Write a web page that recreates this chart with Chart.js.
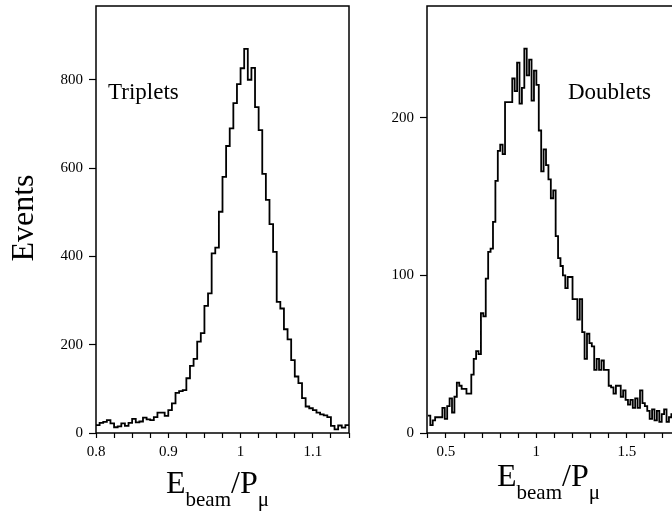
<!DOCTYPE html>
<html>
<head>
<meta charset="utf-8">
<script src="https://cdn.jsdelivr.net/npm/chart.js@4.4.1/dist/chart.umd.min.js"></script>
<style>
  html, body { margin: 0; padding: 0; background: #fff; overflow: hidden; }
  #page { position: relative; width: 672px; height: 522px; overflow: hidden; background: #fff; }
  canvas { position: absolute; top: 0; }
  .txt { position: absolute; font-family: 'Liberation Serif', 'Times New Roman', serif; color: #000; white-space: nowrap; line-height: 1; }
  .sub { font-size: 21px; position: relative; top: 13px; }
</style>
</head>
<body>
<div id="page">
  <canvas id="tripletChart" width="360" height="522" style="left:0px"></canvas>
  <canvas id="doubletChart" width="370" height="522" style="left:330px"></canvas>

  <div class="txt" style="font-size:32px; left:-38px; top:202px; width:120px; text-align:center; line-height:32px; transform:rotate(-90deg);">Events</div>
  <div class="txt" style="font-size:23px; left:108px; top:80px;">Triplets</div>
  <div class="txt" style="font-size:23px; left:568px; top:80px;">Doublets</div>
  <div class="txt" style="font-size:32px; left:166px; top:466px;">E<span class="sub">beam</span>/P<span class="sub">μ</span></div>
  <div class="txt" style="font-size:32px; left:497px; top:459px;">E<span class="sub">beam</span>/P<span class="sub">μ</span></div>
</div>

<script>
// Triplets: E_beam/P_mu histogram, bins of 0.005 starting at 0.8
const tripletBinStart = 0.8;
const tripletBinWidth = 0.005;
const tripletCounts = [
    18, 23, 25, 29, 22, 13, 15, 22, 16, 23,
    32, 24, 26, 35, 31, 29, 36, 46, 46, 39,
    52, 67, 91, 95, 97, 124, 152, 168, 207, 226,
    288, 316, 407, 420, 501, 580, 650, 690, 747, 790,
    826, 870, 800, 827, 738, 686, 587, 528, 473, 410,
    297, 282, 235, 212, 165, 128, 113, 79, 60, 56,
    52, 46, 42, 40, 36, 16, 8, 17, 12, 18
];

// Doublets: bins of 1/75 starting at 0.4
const doubletBinStart = 0.4;
const doubletBinWidth = 0.013333;
const doubletCounts = [
    11, 5, 8, 10, 10, 10, 16, 9, 17, 22,
    13, 23, 32, 30, 28, 28, 25, 25, 37, 47,
    52, 50, 76, 74, 98, 115, 117, 134, 160, 179,
    183, 177, 210, 210, 210, 225, 217, 235, 209, 219,
    244, 227, 237, 211, 230, 221, 192, 166, 180, 170,
    161, 149, 154, 125, 111, 106, 100, 92, 99, 99,
    85, 85, 72, 85, 64, 47, 63, 57, 55, 40,
    47, 40, 46, 40, 40, 30, 29, 25, 30, 30,
    23, 27, 21, 18, 21, 16, 22, 16, 27, 19,
    17, 14, 9, 15, 8, 14, 7, 12, 15, 7,
    10, 12
];

// axis ranges and ticks
const tripletXRange = [0.8, 1.15];
const tripletYRange = [0, 967];
const doubletXRange = [0.395, 1.8];
const doubletYRange = [0, 271];
const tripletYTicks = [0, 200, 400, 600, 800];
const doubletYTicks = [0, 100, 200];

const serif = "'Liberation Serif', 'Times New Roman', serif";

// histogram -> stepped line points (left bin edges + closing edge)
function stepPoints(start, width, counts) {
    const pts = counts.map((c, i) => ({ x: start + i * width, y: c }));
    pts.push({ x: start + counts.length * width, y: counts[counts.length - 1] });
    return pts;
}

const framePlugin = {
    id: 'frame',
    afterDatasetsDraw(chart) {
        const { ctx, chartArea: a } = chart;
        ctx.save();
        ctx.strokeStyle = '#000';
        ctx.lineWidth = 1.5;
        ctx.strokeRect(a.left, a.top, a.right - a.left, a.bottom - a.top);
        ctx.restore();
    }
};

function makeChart(id, points, xRange, yRange, xStep, yTickList, xLabelEvery, yWidth, padRight) {
    const ctx = document.getElementById(id).getContext('2d');
    return new Chart(ctx, {
        type: 'line',
        data: {
            datasets: [{
                data: points,
                stepped: true,
                borderColor: '#000',
                borderWidth: 1.8,
                pointRadius: 0,
                fill: false
            }]
        },
        options: {
            responsive: false,
            animation: false,
            events: [],
            layout: { padding: { top: 6, right: padRight, bottom: 0, left: 0 } },
            plugins: { legend: { display: false }, tooltip: { enabled: false } },
            scales: {
                x: {
                    type: 'linear',
                    min: xRange[0],
                    max: xRange[1],
                    afterFit: (s) => {
                        s.height = 89;
                        s.paddingLeft = 0;
                        s.paddingRight = 0;
                    },
                    border: { display: false },
                    grid: { drawOnChartArea: false, drawTicks: true, tickLength: 5, tickColor: '#000', tickWidth: 1.2 },
                    ticks: {
                        stepSize: xStep,
                        includeBounds: false,
                        autoSkip: false,
                        maxRotation: 0,
                        padding: 5,
                        color: '#000',
                        font: { family: serif, size: 15 },
                        callback: (v) => {
                            const k = v / xLabelEvery;
                            if (Math.abs(k - Math.round(k)) > 1e-6) return '';
                            return String(Math.round(v * 100) / 100);
                        }
                    }
                },
                y: {
                    type: 'linear',
                    min: yRange[0],
                    max: yRange[1],
                    afterBuildTicks: (s) => {
                        s.ticks = yTickList.map(v => ({ value: v }));
                    },
                    afterFit: (s) => {
                        s.width = yWidth;
                        s.paddingTop = 0;
                        s.paddingBottom = 0;
                    },
                    border: { display: false },
                    grid: { drawOnChartArea: false, drawTicks: true, tickLength: 7, tickColor: '#000', tickWidth: 1.2 },
                    ticks: {
                        autoSkip: false,
                        padding: 6,
                        color: '#000',
                        font: { family: serif, size: 15 },
                        callback: (v) => String(v)
                    }
                }
            }
        },
        plugins: [framePlugin]
    });
}

makeChart('tripletChart', stepPoints(tripletBinStart, tripletBinWidth, tripletCounts),
    tripletXRange, tripletYRange, 0.025, tripletYTicks, 0.1, 96, 11);
makeChart('doubletChart', stepPoints(doubletBinStart, doubletBinWidth, doubletCounts),
    doubletXRange, doubletYRange, 0.1, doubletYTicks, 0.5, 97, 19);
</script>
</body>
</html>
